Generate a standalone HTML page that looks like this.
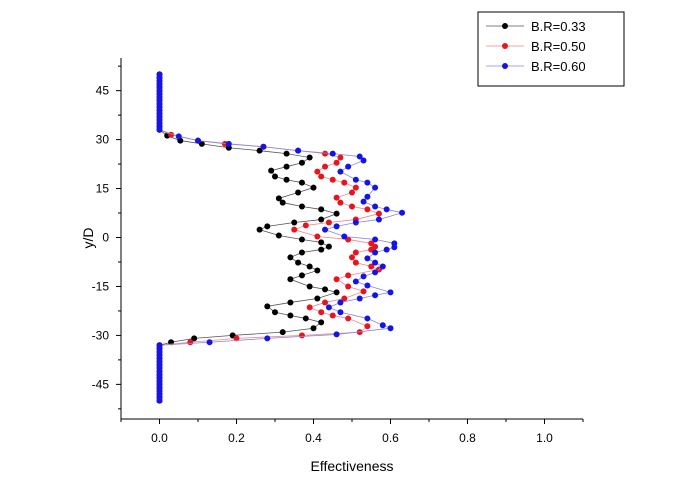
<!DOCTYPE html>
<html><head><meta charset="utf-8"><style>
body{margin:0;background:#fff;}
svg{display:block;font-family:"Liberation Sans",sans-serif;}
</style></head><body>
<svg id="chart" width="678" height="502" viewBox="0 0 678 502"></svg>
<script>
const tailTopY=[50,49,48,47,46,45,44,43,42,41,40,39,38,37,36,35,34,33];
const tailBotY=[-33,-34,-35,-36,-37,-38,-39,-40,-41,-42,-43,-44,-45,-46,-47,-48,-49,-50];
const blackY=[31.2,29.7,28.7,27.5,26.6,25.7,24.5,22.9,21.7,20.5,18.7,17.7,16.8,15.3,13.8,12,10.7,9.5,8.6,7.3,5.5,4.6,3.4,2.4,0.6,-0.6,-1.5,-2.8,-3.7,-4.6,-6.1,-7.7,-8.9,-10.1,-11.6,-12.8,-15,-15.9,-16.8,-18.7,-19.9,-21.1,-22.9,-23.9,-24.8,-26,-27.8,-29,-30,-30.9,-32.1];
const blackX=[0.02,0.054,0.11,0.18,0.26,0.33,0.39,0.37,0.33,0.29,0.30,0.33,0.37,0.40,0.36,0.31,0.32,0.37,0.42,0.46,0.42,0.35,0.28,0.26,0.31,0.37,0.42,0.44,0.42,0.37,0.34,0.36,0.39,0.41,0.37,0.34,0.39,0.43,0.46,0.41,0.34,0.28,0.30,0.34,0.38,0.42,0.40,0.32,0.19,0.09,0.03];
const redY=[31.5,29.7,28.7,27.8,26.6,25.7,24.5,22.9,21.7,20.2,18.7,17.7,16.8,15.3,13.8,12.2,10.7,9.5,8.6,7.3,5.5,4.6,3.7,2.4,0.3,-0.6,-1.8,-2.8,-3.7,-4.6,-6.1,-7.7,-8.9,-9.8,-11.6,-12.8,-15,-16.5,-18.7,-19.9,-21.4,-22.9,-23.9,-24.8,-27.2,-29,-30,-30.9,-32.1];
const redX=[0.03,0.10,0.17,0.27,0.36,0.43,0.47,0.46,0.43,0.41,0.42,0.45,0.48,0.51,0.50,0.46,0.47,0.50,0.54,0.57,0.51,0.44,0.38,0.35,0.41,0.49,0.55,0.56,0.55,0.51,0.50,0.51,0.55,0.57,0.49,0.46,0.49,0.53,0.48,0.43,0.39,0.42,0.45,0.49,0.54,0.52,0.37,0.20,0.08];
const blueY=[31,29.7,28.7,27.8,26.6,25.7,24.8,23.6,21.7,20.2,17.7,16.8,15.3,12.5,11,9.5,8.6,7.6,5.5,4.6,3.4,2.4,0.3,-0.6,-1.8,-3,-3.7,-4.6,-6.4,-7.7,-8.9,-10.7,-11.9,-13.5,-14.7,-16.8,-17.7,-18.7,-19.9,-21.4,-22.9,-24.8,-26.9,-27.8,-29.7,-30.9,-32.1];
const blueX=[0.05,0.10,0.18,0.27,0.36,0.45,0.52,0.53,0.49,0.47,0.51,0.54,0.56,0.54,0.53,0.56,0.59,0.63,0.57,0.51,0.46,0.43,0.48,0.56,0.61,0.61,0.59,0.56,0.54,0.56,0.58,0.56,0.53,0.51,0.54,0.60,0.56,0.52,0.47,0.44,0.47,0.54,0.58,0.60,0.46,0.28,0.13];
const xTicks=[0,0.2,0.4,0.6,0.8,1.0];
const xTickLabels=["0.0","0.2","0.4","0.6","0.8","1.0"];
const yTicks=[45,30,15,0,-15,-30,-45];
const yTickLabels=["45","30","15","0","-15","-30","-45"];
const legendLabels=["B.R=0.33","B.R=0.50","B.R=0.60"];
const colors=["#000000","#e8141e","#1414e6"];
const lineColors=["#555","#e88","#88d"];

const X0=-0.1,X1=1.1,Y0=-55,Y1=55;
const L=121,R=583,T=58,B=419;
const YB=417;
const sx=v=>L+(v-X0)/(X1-X0)*(R-L);
const sy=v=>YB-(v-Y0)/(Y1-Y0)*(YB-T);
const svg=document.getElementById('chart');
const NS="http://www.w3.org/2000/svg";
function mk(t,a,p){const e=document.createElementNS(NS,t);for(const k in a)e.setAttribute(k,a[k]);(p||svg).appendChild(e);return e;}

let ax=mk('line',{x1:L,y1:T,x2:L,y2:B,stroke:'#000','stroke-width':1});


ax=mk('line',{x1:L,y1:B,x2:R,y2:B,stroke:'#000','stroke-width':1});



xTicks.forEach((v,i)=>{
  mk('line',{x1:sx(v),y1:B,x2:sx(v),y2:B+5,stroke:'#000'});
  mk('line',{x1:sx(v+0.1),y1:B,x2:sx(v+0.1),y2:B+3,stroke:'#000'});
  const t=mk('text',{x:sx(v),y:B+23,'text-anchor':'middle','font-size':12});
  t.textContent=xTickLabels[i];
  
  
});
mk('line',{x1:sx(-0.1),y1:B,x2:sx(-0.1),y2:B+3,stroke:'#000'});
yTicks.forEach((v,i)=>{
  mk('line',{x1:L,y1:sy(v),x2:L-5,y2:sy(v),stroke:'#000'});
  mk('line',{x1:L,y1:sy(v+7.5),x2:L-3,y2:sy(v+7.5),stroke:'#000'});
  const t=mk('text',{x:L-12,y:sy(v)+4,'text-anchor':'end','font-size':12});
  t.textContent=yTickLabels[i];
  
  
});
mk('line',{x1:L,y1:sy(-52.5),x2:L-3,y2:sy(-52.5),stroke:'#000'});

let t=mk('text',{x:352,y:471,'text-anchor':'middle','font-size':14});
t.textContent='Effectiveness';


t=mk('text',{x:93,y:238,'text-anchor':'middle','font-size':14,transform:'rotate(-90 93 238)'});
t.textContent='y/D';



const series=[[blackX,blackY],[redX,redY],[blueX,blueY]];
series.forEach((s,k)=>{
  const g=mk('g',{});
  
  
  const ys=tailTopY.concat(s[1],tailBotY);
  const xs=tailTopY.map(()=>0).concat(s[0],tailBotY.map(()=>0));
  mk('polyline',{points:xs.map((x,i)=>sx(x)+','+sy(ys[i])).join(' '),fill:'none',stroke:lineColors[k],'stroke-width':0.8},g);
  xs.forEach((x,i)=>{
    const c=mk('circle',{cx:sx(x),cy:sy(ys[i]),r:3,fill:colors[k]},g);
    
    
  });
});

const lg=mk('g',{});


mk('rect',{x:478,y:12,width:146,height:74,fill:'#fff',stroke:'#000','stroke-width':1},lg);
legendLabels.forEach((lab,k)=>{
  const y=26+k*20;
  const e=mk('g',{},lg);
  
  
  mk('line',{x1:486,y1:y,x2:524,y2:y,stroke:lineColors[k],'stroke-width':0.8},e);
  mk('circle',{cx:505,cy:y,r:3,fill:colors[k]},e);
  const tt=mk('text',{x:531,y:y+5,'font-size':13},e);
  tt.textContent=lab;
});
</script>
</body></html>
